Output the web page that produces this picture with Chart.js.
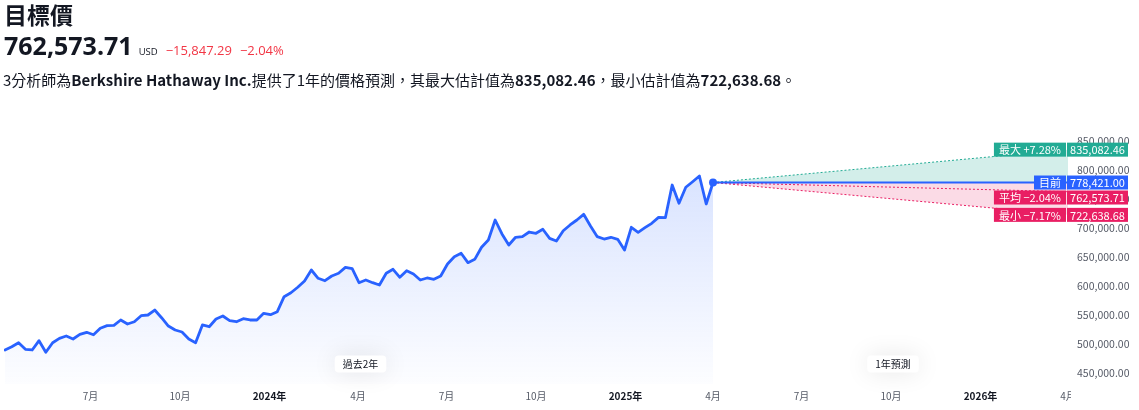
<!DOCTYPE html>
<html>
<head>
<meta charset="utf-8">
<script src="https://cdn.jsdelivr.net/npm/chart.js@4.4.0/dist/chart.umd.min.js"></script>
<style>
html,body{margin:0;padding:0;background:#fff;width:1139px;height:410px;overflow:hidden;}
#wrap{position:relative;width:1139px;height:410px;}
#chart{position:absolute;left:0;top:0;}
.abs{position:absolute;white-space:nowrap;color:#131722;}
#title{left:4px;top:3px;font:700 23px/23px "Noto Sans CJK TC",sans-serif;}
#priceRow{left:4px;top:30px;display:flex;align-items:baseline;}
#priceRow .big{font:700 25px/30px "Open Sans",sans-serif;color:#131722;}
#priceRow .usd{font:400 9.5px "Open Sans",sans-serif;margin-left:6px;color:#131722;}
#priceRow .chg{font:400 13px "Open Sans",sans-serif;color:#f23645;margin-left:8px;}
#desc{left:3px;top:70px;font:400 15px/20px "Noto Sans CJK TC",sans-serif;}
#desc b{font-weight:700;}
</style>
</head>
<body>
<div id="wrap">
  <canvas id="chart" width="1139" height="410"></canvas>
  <div id="title" class="abs">目標價</div>
  <div id="priceRow" class="abs"><span class="big" id="pBig"></span><span class="usd">USD</span><span class="chg" id="pChg"></span><span class="chg" id="pPct"></span></div>
  <div id="desc" class="abs"></div>
</div>
<script>
// ---------------- data ----------------
const historyStart = '2023-04-04';      // first weekly close
const historyStepDays = 7;              // weekly closes
const historyValues = [
  489700, 495300, 502200, 490900, 489700, 505700, 485700, 502200, 509800, 513800,
  508600, 516700, 520200, 516000, 527100, 531600, 532200, 541400, 534500, 538400,
  548800, 550000, 558600, 545300, 531000, 524100, 520700, 508600, 502200, 532800,
  529800, 543100, 548300, 540200, 538400, 543600, 541400, 541400, 552900, 550500,
  555700, 581600, 588400, 597800, 608600, 627600, 613300, 609100, 617200, 621900,
  632200, 629800, 605700, 610300, 605700, 601700, 621900, 628800, 615000, 626400,
  620700, 610300, 613800, 611600, 617200, 637900, 650500, 656400, 640200, 646000,
  666700, 679300, 713800, 689700, 670700, 684000, 685000, 693100, 690900, 697800,
  682200, 677600, 695300, 705200, 713800, 723600, 703400, 685000, 681000, 684000,
  680500, 662100, 701200, 692600, 700500, 708100, 718400, 717800, 774100, 742600,
  770200, 779800, 789700, 741400, 778421
];
const currentPrice = 778421.00;
const forecastMax = 835082.46;
const forecastAvg = 762573.71;
const forecastMin = 722638.68;
const forecastEnd = '2026-04-01';
const analystCount = 3;
const companyName = 'Berkshire Hathaway Inc.';

const xAxisStart = '2023-04-03';
const xAxisEnd = '2026-04-02';
const xTickDates = ['2023-07-01','2023-10-01','2024-01-01','2024-04-01','2024-07-01','2024-10-01',
                    '2025-01-01','2025-04-01','2025-07-01','2025-10-01','2026-01-01','2026-04-01'];
const xTickLabels = ['7月','10月','2024年','4月','7月','10月','2025年','4月','7月','10月','2026年','4月'];
const yTickValues = [450000, 500000, 550000, 600000, 650000, 700000, 750000, 800000, 850000];
const yAxisMin = 430000;
const yAxisMax = 870000;
const periodLabels = ['過去2年', '1年預測'];

// ---------------- helpers ----------------
const DAY = 86400000;
const toDay = s => Date.parse(s + 'T00:00:00Z') / DAY;
const fmt2 = v => v.toLocaleString('en-US', {minimumFractionDigits: 2, maximumFractionDigits: 2});
const MINUS = '\u2212';
const pctStr = v => { const p = (v / currentPrice - 1) * 100; return (p >= 0 ? '+' : MINUS) + Math.abs(p).toFixed(2) + '%'; };
const signed = v => (v >= 0 ? '+' : MINUS) + fmt2(Math.abs(v));

// header text
document.getElementById('pBig').textContent = fmt2(forecastAvg);
document.getElementById('pChg').textContent = signed(forecastAvg - currentPrice);
document.getElementById('pPct').textContent = pctStr(forecastAvg);
document.getElementById('desc').innerHTML = analystCount + '分析師為<b>' + companyName + '</b>提供了1年的價格預測，其最大估計值為<b>' +
  fmt2(forecastMax) + '</b>，最小估計值為<b>' + fmt2(forecastMin) + '</b>。';

const startDay = toDay(historyStart);
const historyPoints = historyValues.map((v, i) => ({x: startDay + i * historyStepDays, y: v}));
const lastX = historyPoints[historyPoints.length - 1].x;
const endX = toDay(forecastEnd);
const seg = v => [{x: lastX, y: currentPrice}, {x: endX, y: v}];

const BLUE = '#2962ff', GREEN = '#22ab94', RED = '#e91e63';
const FONT = '"Noto Sans CJK TC", sans-serif';

const tagPlugin = {
  id: 'tags',
  beforeDatasetsDraw(chart) {
    // y-axis panel hides x labels that run under it
    const {ctx, chartArea: ca} = chart;
    ctx.save();
    ctx.fillStyle = '#fff';
    ctx.fillRect(ca.right + 2, ca.bottom, chart.width - ca.right, chart.height - ca.bottom);
    ctx.restore();
  },
  afterDatasetsDraw(chart) {
    const {ctx, chartArea: ca} = chart;
    const xs = chart.scales.x;
    const mids = [(ca.left + xs.getPixelForValue(lastX)) / 2 + 2, (xs.getPixelForValue(lastX) + ca.right) / 2 + 2];
    ctx.save();
    ctx.font = '10px ' + FONT;
    mids.forEach((cx, i) => {
      const w = ctx.measureText(periodLabels[i]).width + 16, h = 17, cy = 364;
      ctx.save();
      ctx.shadowColor = 'rgba(0,0,0,0.10)';
      ctx.shadowBlur = 24;
      ctx.fillStyle = '#fff';
      ctx.beginPath();
      ctx.roundRect(cx - w / 2, cy - h / 2, w, h, 4);
      ctx.fill();
      ctx.restore();
      ctx.fillStyle = '#131722';
      ctx.textAlign = 'center';
      ctx.textBaseline = 'middle';
      ctx.fillText(periodLabels[i], cx, cy + 0.5);
    });
    ctx.restore();
  },
  afterDraw(chart) {
    const {ctx} = chart;
    const y = chart.scales.y;
    const H = 14;
    const tags = [
      {name: '最大 ' + pctStr(forecastMax), val: forecastMax, color: GREEN},
      {name: '目前', val: currentPrice, color: BLUE},
      {name: '平均 ' + pctStr(forecastAvg), val: forecastAvg, color: RED},
      {name: '最小 ' + pctStr(forecastMin), val: forecastMin, color: RED}
    ];
    tags.forEach(t => t.cy = y.getPixelForValue(t.val));
    tags.sort((a, b) => a.cy - b.cy);
    for (let i = 1; i < tags.length; i++) {
      const m = tags[i - 1].cy + H + 1;
      if (tags[i].cy < m) tags[i].cy = m;
    }
    ctx.save();
    ctx.font = '11px ' + FONT;
    ctx.textBaseline = 'middle';
    ctx.textAlign = 'center';
    const vL = 1067, vR = 1128;
    tags.forEach(t => {
      const top = t.cy - H / 2;
      ctx.fillStyle = t.color;
      ctx.fillRect(vL, top, vR - vL, H);
      const nw = ctx.measureText(t.name).width + 10;
      ctx.fillRect(vL - 1 - nw, top, nw, H);
      ctx.fillStyle = '#fff';
      ctx.fillText(fmt2(t.val), (vL + vR) / 2, t.cy + 0.5);
      ctx.fillText(t.name, vL - 1 - nw / 2, t.cy + 0.5);
    });
    ctx.restore();
  }
};

new Chart(document.getElementById('chart'), {
  type: 'line',
  data: {
    datasets: [
      {
        data: historyPoints,
        borderColor: BLUE,
        borderWidth: 2.8,
        tension: 0,
        fill: 'start',
        backgroundColor: (c) => {
          const area = c.chart.chartArea;
          if (!area) return 'rgba(41,98,255,0.1)';
          const g = c.chart.ctx.createLinearGradient(0, area.top + 40, 0, area.bottom);
          g.addColorStop(0, 'rgba(41,98,255,0.18)');
          g.addColorStop(1, 'rgba(41,98,255,0.01)');
          return g;
        },
        pointRadius: (c) => c.dataIndex === historyValues.length - 1 ? 4 : 0,
        pointBackgroundColor: BLUE,
        pointBorderWidth: 0,
        borderJoinStyle: 'round',
        borderCapStyle: 'round'
      },
      {
        data: seg(currentPrice),
        borderColor: BLUE, borderWidth: 2, pointRadius: 0, fill: false
      },
      {
        data: seg(forecastMax),
        borderColor: GREEN, borderWidth: 1, borderDash: [2, 2], pointRadius: 0,
        fill: {target: 1, above: 'rgba(34,171,148,0.2)', below: 'rgba(34,171,148,0.2)'}
      },
      {
        data: seg(forecastAvg),
        borderColor: RED, borderWidth: 1, borderDash: [2, 2], pointRadius: 0, fill: false
      },
      {
        data: seg(forecastMin),
        borderColor: RED, borderWidth: 1, borderDash: [2, 2], pointRadius: 0,
        fill: {target: 1, above: 'rgba(233,30,99,0.16)', below: 'rgba(233,30,99,0.16)'}
      }
    ]
  },
  options: {
    responsive: false,
    animation: false,
    devicePixelRatio: 1,
    layout: {padding: {top: 129.4, left: 0, right: 0, bottom: 0}},
    plugins: {legend: {display: false}, tooltip: {enabled: false}},
    scales: {
      x: {
        type: 'linear',
        min: toDay(xAxisStart),
        max: toDay(xAxisEnd),
        grid: {display: false, drawTicks: false},
        border: {display: false},
        afterBuildTicks: (s) => { s.ticks = xTickDates.map(d => ({value: toDay(d)})); },
        afterFit: (s) => { s.height = 25.4; },
        ticks: {
          autoSkip: false,
          maxRotation: 0,
          padding: 6,
          callback: (v, i) => xTickLabels[i],
          color: (c) => xTickLabels[c.index] && xTickLabels[c.index].includes('年') ? '#131722' : '#555a66',
          font: (c) => ({family: FONT, size: 10, weight: xTickLabels[c.index] && xTickLabels[c.index].includes('年') ? 'bold' : 'normal'})
        }
      },
      y: {
        type: 'linear',
        position: 'right',
        min: yAxisMin,
        max: yAxisMax,
        grid: {display: false, drawTicks: false},
        border: {display: false},
        afterBuildTicks: (s) => { s.ticks = yTickValues.map(v => ({value: v})); },
        afterFit: (s) => { s.width = 70; },
        ticks: {
          crossAlign: 'near',
          padding: 8,
          color: '#555a66',
          font: {family: FONT, size: 10.5},
          callback: (v) => fmt2(v)
        }
      }
    }
  },
  plugins: [tagPlugin]
});
</script>
</body>
</html>
